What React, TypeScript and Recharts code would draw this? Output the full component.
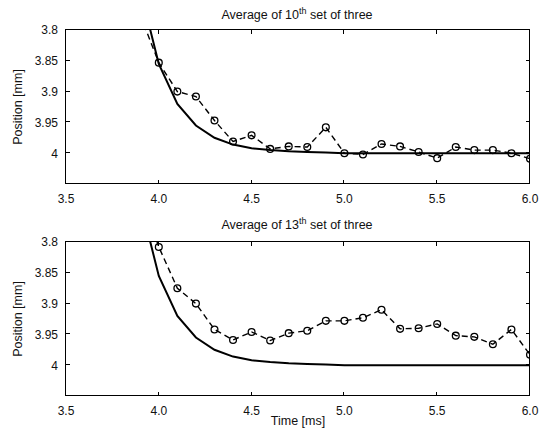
import React from 'react';
import { LineChart, Line, XAxis, YAxis } from 'recharts';

const times = [3.9, 4.0, 4.1, 4.2, 4.3, 4.4, 4.5, 4.6, 4.7, 4.8, 4.9, 5.0, 5.1, 5.2, 5.3, 5.4, 5.5, 5.6, 5.7, 5.8, 5.9, 6.0];
const model = [3.735, 3.855, 3.92, 3.955, 3.975, 3.986, 3.992, 3.995, 3.997, 3.998, 3.999, 4.0, 4.0, 4.0, 4.0, 4.0, 4.0, 4.0, 4.0, 4.0, 4.0, 4.0];
const set10 = [3.776, 3.853, 3.9, 3.908, 3.947, 3.981, 3.971, 3.993, 3.989, 3.99, 3.958, 4.0, 4.002, 3.985, 3.989, 3.998, 4.008, 3.99, 3.995, 3.995, 4.0, 4.009];
const set13 = [3.72, 3.808, 3.875, 3.9, 3.942, 3.959, 3.946, 3.96, 3.948, 3.944, 3.928, 3.928, 3.923, 3.91, 3.941, 3.94, 3.933, 3.952, 3.954, 3.966, 3.942, 3.983];
const xTicks = [3.5, 4.0, 4.5, 5.0, 5.5, 6.0];
const yTicks = [3.8, 3.85, 3.9, 3.95, 4];
const xDomain = [3.5, 6];
const yDomain = [3.8, 4.05];
const titles = ['10', '13'];

const FONT = '"Liberation Sans", Arial, sans-serif';
const PLOT_L = 66;
const PLOT_W = 464;
const PLOT_H = 154;
const PANEL_TOPS = [30, 242];
const TICK_LEN = 4;

const XTick = (props: any) => {
  const { x, y, payload } = props;
  return (
    <text x={x} y={y + 19} textAnchor="middle" fontSize={12} fontFamily={FONT} fill="#111">{Number(payload.value).toFixed(1)}</text>
  );
};

const YTick = (props: any) => {
  const { x, y, payload } = props;
  return (
    <text x={x - 8} y={y + 4.3} textAnchor="end" fontSize={12} fontFamily={FONT} fill="#111">{String(Number(payload.value))}</text>
  );
};

const MarkerDot = (props: any) => {
  const { cx, cy, payload, index } = props;
  if (payload.t < 3.95 || cx == null || cy == null) return <g key={`d${index}`} />;
  return <circle key={`d${index}`} cx={cx} cy={cy} r={3.4} fill="none" stroke="#000" strokeWidth={1.3} />;
};

function Panel({ meas, height, top, xAxisHeight }: { meas: number[]; height: number; top: number; xAxisHeight: number }) {
  const data = times.map((t, i) => ({ t, model: model[i], meas: meas[i] }));
  return (
    <LineChart width={541} height={height} data={data} margin={{ top, right: 11, bottom: 0, left: 0 }}>
      <XAxis dataKey="t" type="number" domain={xDomain} ticks={xTicks} allowDataOverflow height={xAxisHeight}
        tickSize={0} tickMargin={0} tick={<XTick />} axisLine={false} tickLine={false} interval={0} />
      <YAxis type="number" domain={yDomain} reversed allowDataOverflow ticks={yTicks} width={PLOT_L}
        tickSize={0} tickMargin={0} tick={<YTick />} axisLine={false} tickLine={false} interval={0} />
      <Line dataKey="model" stroke="#000" strokeWidth={2} dot={false} isAnimationActive={false} />
      <Line dataKey="meas" stroke="#000" strokeWidth={1.4} strokeDasharray="6 4" dot={MarkerDot} isAnimationActive={false} />
    </LineChart>
  );
}

// boxed axes with inward ticks on all four sides
function Frame({ top }: { top: number }) {
  const xPix = (v: number) => PLOT_L + ((v - xDomain[0]) / (xDomain[1] - xDomain[0])) * PLOT_W;
  const yPix = (v: number) => top + ((v - yDomain[0]) / (yDomain[1] - yDomain[0])) * PLOT_H;
  const segs: string[] = [];
  xTicks.slice(1, -1).forEach((v) => {
    const x = Math.round(xPix(v)) - 0.5;
    segs.push(`M${x},${top + PLOT_H}L${x},${top + PLOT_H - TICK_LEN}`);
    segs.push(`M${x},${top}L${x},${top + TICK_LEN}`);
  });
  yTicks.slice(1).forEach((v) => {
    const y = Math.round(yPix(v)) - 0.5;
    segs.push(`M${PLOT_L},${y}L${PLOT_L + TICK_LEN},${y}`);
    segs.push(`M${PLOT_L + PLOT_W},${y}L${PLOT_L + PLOT_W - TICK_LEN},${y}`);
  });
  return (
    <g>
      <rect x={PLOT_L - 0.5} y={top - 0.5} width={PLOT_W} height={PLOT_H} fill="none" stroke="#000" strokeWidth={1} />
      <path d={segs.join('')} stroke="#000" strokeWidth={1} fill="none" />
    </g>
  );
}

export default function App() {
  return (
    <div style={{ position: 'absolute', left: 0, top: 0, width: 541, height: 435, background: '#fff', overflow: 'hidden' }}>
      <div style={{ position: 'absolute', left: 0, top: 0 }}>
        <Panel meas={set10} height={217} top={PANEL_TOPS[0]} xAxisHeight={33} />
      </div>
      <div style={{ position: 'absolute', left: 0, top: 217 }}>
        <Panel meas={set13} height={218} top={PANEL_TOPS[1] - 217} xAxisHeight={39} />
      </div>
      <svg width={541} height={435} style={{ position: 'absolute', left: 0, top: 0, pointerEvents: 'none' }}>
        <Frame top={PANEL_TOPS[0]} />
        <Frame top={PANEL_TOPS[1]} />
        <g fontFamily={FONT} fill="#111" fontSize={12.5}>
          <text x={297} y={19} textAnchor="middle">
            {`Average of ${titles[0]}`}
            <tspan dy={-5} fontSize={9}>th</tspan>
            <tspan dy={5}> set of three</tspan>
          </text>
          <text x={297} y={229} textAnchor="middle">
            {`Average of ${titles[1]}`}
            <tspan dy={-5} fontSize={9}>th</tspan>
            <tspan dy={5}> set of three</tspan>
          </text>
          <text x={22} y={107} textAnchor="middle" transform="rotate(-90 22 107)">Position [mm]</text>
          <text x={22} y={319} textAnchor="middle" transform="rotate(-90 22 319)">Position [mm]</text>
          <text x={298} y={425} textAnchor="middle">Time [ms]</text>
        </g>
      </svg>
    </div>
  );
}
